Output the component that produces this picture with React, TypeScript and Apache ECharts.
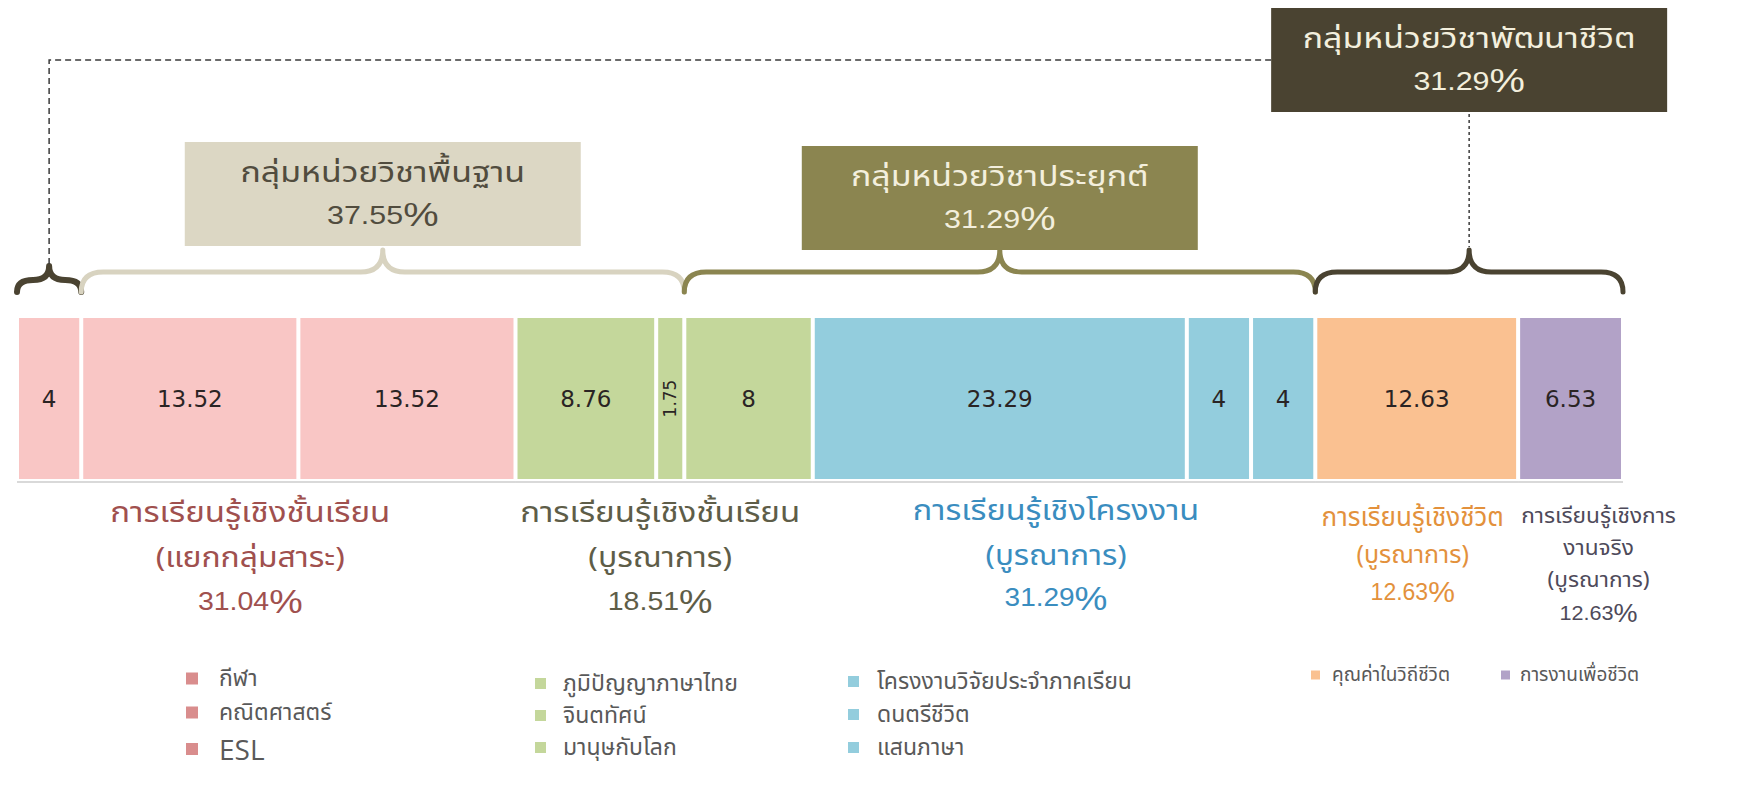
import React, { useEffect, useRef } from "react";
import * as echarts from "echarts";

// ---------- data ----------
const subjects = [
  "กีฬา",
  "คณิตศาสตร์",
  "ESL",
  "ภูมิปัญญาภาษาไทย",
  "จินตทัศน์",
  "มานุษกับโลก",
  "โครงงานวิจัยประจำภาคเรียน",
  "ดนตรีชีวิต",
  "แสนภาษา",
  "คุณค่าในวิถีชีวิต",
  "การงานเพื่อชีวิต",
];
const shares = [4, 13.52, 13.52, 8.76, 1.75, 8, 23.29, 4, 4, 12.63, 6.53];
// learning mode of each subject (index into modeLines)
const learningMode = [0, 0, 0, 1, 1, 1, 2, 2, 2, 3, 4];
const modeLines = [
  ["การเรียนรู้เชิงชั้นเรียน", "(แยกกลุ่มสาระ)"],
  ["การเรียนรู้เชิงชั้นเรียน", "(บูรณาการ)"],
  ["การเรียนรู้เชิงโครงงาน", "(บูรณาการ)"],
  ["การเรียนรู้เชิงชีวิต", "(บูรณาการ)"],
  ["การเรียนรู้เชิงการ", "งานจริง", "(บูรณาการ)"],
];
const modePercents = [31.04, 18.51, 31.29, 12.63, 12.63];
const unitGroupNames = ["กลุ่มหน่วยวิชาพื้นฐาน", "กลุ่มหน่วยวิชาประยุกต์", "กลุ่มหน่วยวิชาพัฒนาชีวิต"];
const unitGroupPercents = [37.55, 31.29, 31.29];
// braces: first & last subject index covered, and the unit group they belong to
const braceFrom = [0, 1, 5, 9];
const braceTo = [0, 4, 8, 10];
const braceGroup = [2, 0, 1, 2];

// ---------- styles ----------
const THAI = "'Noto Sans Thai', 'Noto Sans Thai UI', Loma, Garuda, Tahoma, 'Noto Sans', sans-serif";
const NUM = "'DejaVu Sans', 'Noto Sans', sans-serif";
const LATIN = "'Open Sans', 'Noto Sans', sans-serif";
const ARIAL = "'Liberation Sans', Arial, sans-serif";
const modeColors = ["#F9C6C5", "#C4D79B", "#93CDDD", "#FAC191", "#B2A2C7"];
const legendColors = ["#D98D8D", "#C4D79B", "#93CDDD", "#FAC191", "#B2A2C7"];
const modeTextColors = ["#A0504E", "#5E5D48", "#3A8DBF", "#E3913C", "#4E4A5A"];
const braceColors = ["#4A4331", "#D8D3C0", "#8B8550", "#4A4331"];
const boxFills = ["#DCD7C4", "#8B8550", "#4A4331"];
const boxTextColors = ["#514C3E", "#F3EFDD", "#F3EFDD"];

export default function App() {
  const ref = useRef<HTMLDivElement>(null);

  useEffect(() => {
    const chart = echarts.init(ref.current!, null, { renderer: "svg" });

    const cum: number[] = [0];
    shares.forEach((v, i) => cum.push(cum[i] + v));

    const braceData = braceFrom.map((a, k) => [cum[a], 0, cum[braceTo[k] + 1], k]);
    const modeData = modeLines.map((_, m) => {
      const idx = learningMode.map((g, i) => (g === m ? i : -1)).filter((i) => i >= 0);
      return [cum[idx[0]], 0, cum[idx[idx.length - 1] + 1], m];
    });

    const boxW = 396;
    const boxH = 104;
    const boxBottomGap = [70, 66, 204];

    // per-mode label layout
    const modeDx = [-16, -4, -8, -4, 28];
    const modeTop = [-2, -2, -4, 8, 10];
    const modeTitleSize = [29, 29, 29, 26, 21];
    const modeSubSize = [28, 28, 28, 25, 21];
    const modeNumSize = [25, 25, 25, 23, 20];
    const modePctSize = [33, 33, 33, 30, 25];
    const modeTitleLh = [48, 48, 48, 37, 32];
    const modeLh = [43, 43, 42, 37, 32];
    const modeScale = [1.14, 1.14, 1.12, 1.0, 1.08];

    const bracePath = (x1: number, x2: number, yEnd: number, yMid: number, yTip: number, r: number) => {
      const xm = (x1 + x2) / 2;
      return (
        `M${x1},${yEnd} Q${x1},${yMid} ${x1 + r},${yMid} L${xm - r},${yMid} ` +
        `Q${xm},${yMid} ${xm},${yTip} Q${xm},${yMid} ${xm + r},${yMid} ` +
        `L${x2 - r},${yMid} Q${x2},${yMid} ${x2},${yEnd}`
      );
    };

    const barSeries = subjects.map((name, i) => ({
      name,
      type: "bar",
      stack: "all",
      barWidth: "100%",
      silent: true,
      data: [shares[i]],
      itemStyle: { color: modeColors[learningMode[i]], borderColor: "#ffffff", borderWidth: 2 },
      label: {
        show: true,
        position: "inside",
        formatter: "{c}",
        fontFamily: NUM,
        fontSize: shares[i] < 2 ? 17 : 23,
        color: "#2a2424",
        rotate: shares[i] < 2 ? 90 : 0,
      },
    }));

    const braceSeries = {
      type: "custom",
      name: "braces",
      silent: true,
      clip: false,
      z: 5,
      data: braceData,
      encode: { x: [0, 2], y: 1 },
      renderItem: (params: any, api: any) => {
        const k = api.value(3);
        const p1 = api.coord([api.value(0), 0]);
        const p2 = api.coord([api.value(2), 0]);
        const band = api.size([0, 1])[1];
        const barTop = p1[1] - band / 2;
        const x1 = p1[0];
        const x2 = p2[0];
        const xm = (x1 + x2) / 2;
        const small = x2 - x1 < 100;
        const yEnd = barTop - 24;
        const yMid = small ? barTop - 36 : barTop - 44;
        const yTip = small ? barTop - 50 : barTop - 66;
        const r = small ? (x2 - x1) / 4 : 22;
        const children: any[] = [
          {
            type: "path",
            shape: { pathData: bracePath(x1, x2, yEnd, yMid, yTip, r) },
            style: { fill: "none", stroke: braceColors[k], lineWidth: small ? 6 : 5, lineCap: "round", lineJoin: "round" },
          },
        ];
        const g = braceGroup[k];
        const boxBottom = barTop - boxBottomGap[g];
        const boxTop = boxBottom - boxH;
        if (!small) {
          children.push({
            type: "rect",
            shape: { x: xm - boxW / 2, y: boxTop, width: boxW, height: boxH },
            style: { fill: boxFills[g] },
          });
          children.push({
            type: "text",
            x: xm,
            y: boxTop + boxH / 2,
            scaleX: 1.17,
            style: {
              text: `{t|${unitGroupNames[g]}}\n{n|${unitGroupPercents[g].toFixed(2)}}{p|%}`,
              align: "center",
              verticalAlign: "middle",
              fill: boxTextColors[g],
              rich: {
                t: { fontFamily: THAI, fontSize: 29, lineHeight: 42, fill: boxTextColors[g] },
                n: { fontFamily: ARIAL, fontSize: 26, lineHeight: 42, fill: boxTextColors[g] },
                p: { fontFamily: ARIAL, fontSize: 34, lineHeight: 42, fill: boxTextColors[g] },
              },
            },
          });
          if (g === 2) {
            children.push({
              type: "line",
              shape: { x1: xm, y1: boxBottom + 2, x2: xm, y2: yTip - 3 },
              style: { stroke: "#3a3a3a", lineWidth: 1.5, lineDash: [3, 3] },
            });
          }
        } else {
          // dashed connector from the small brace to its group's box
          const kk = braceGroup.findIndex((gg, i) => gg === g && i !== k);
          const q1 = api.coord([cum[braceFrom[kk]], 0]);
          const q2 = api.coord([cum[braceTo[kk] + 1], 0]);
          const bx = (q1[0] + q2[0]) / 2 - boxW / 2;
          const dashY = boxTop + 52;
          children.push({
            type: "polyline",
            shape: { points: [[xm, yTip - 2], [xm, dashY], [bx, dashY]] },
            style: { fill: "none", stroke: "#3a3a3a", lineWidth: 1.5, lineDash: [6, 4] },
          });
        }
        return { type: "group", children };
      },
    };

    const modeSeries = {
      type: "custom",
      name: "modes",
      silent: true,
      clip: false,
      z: 5,
      data: modeData,
      encode: { x: [0, 2], y: 1 },
      renderItem: (params: any, api: any) => {
        const m = api.value(3);
        const p1 = api.coord([api.value(0), 0]);
        const p2 = api.coord([api.value(2), 0]);
        const band = api.size([0, 1])[1];
        const barBottom = p1[1] + band / 2;
        const cx = (p1[0] + p2[0]) / 2 + modeDx[m];
        const lines = modeLines[m];
        const col = modeTextColors[m];
        const text =
          lines.map((l, j) => (j === 0 ? `{t|${l}}` : `{s|${l}}`)).join("\n") +
          `\n{n|${modePercents[m].toFixed(2)}}{p|%}`;
        return {
          type: "group",
          children: [
            {
              type: "rect",
              shape: { x: p1[0], y: barBottom, width: p2[0] - p1[0], height: 2 },
              style: { fill: "rgba(0,0,0,0.15)" },
            },
            {
              type: "text",
              x: cx,
              y: barBottom + 10 + modeTop[m],
              scaleX: modeScale[m],
              style: {
                text,
                align: "center",
                verticalAlign: "top",
                fill: col,
                rich: {
                  t: { fontFamily: THAI, fontSize: modeTitleSize[m], lineHeight: modeTitleLh[m], fill: col },
                  s: { fontFamily: THAI, fontSize: modeSubSize[m], lineHeight: modeLh[m], fill: col },
                  n: { fontFamily: ARIAL, fontSize: modeNumSize[m], lineHeight: modeLh[m], fill: col },
                  p: { fontFamily: ARIAL, fontSize: modePctSize[m], lineHeight: modeLh[m], fill: col },
                },
              },
            },
          ],
        };
      },
    };

    const legendLeft = [184, 533, 846, 1309, 1499];
    const legendTop = [667, 672, 670, 664, 664];
    const legendIcon = [14, 13, 13, 11, 11];
    const legendFont = [23, 23, 23, 19, 19];
    const legendGap = [11, 9, 10, 10, 10];
    const legendPad = [15, 11, 12, 6, 4];
    const legends = modeLines.map((_, m) => ({
      show: true,
      orient: "vertical",
      left: legendLeft[m],
      top: legendTop[m],
      padding: 0,
      selectedMode: false,
      icon: "rect",
      itemWidth: legendIcon[m],
      itemHeight: legendIcon[m],
      itemGap: legendGap[m],
      textStyle: {
        fontFamily: THAI,
        fontSize: legendFont[m],
        lineHeight: 22,
        color: "#595959",
        padding: [0, 0, 0, legendPad[m]],
      },
      data: subjects
        .map((name, i) => ({ name, i }))
        .filter((d) => learningMode[d.i] === m)
        .map((d) => ({
          name: d.name,
          itemStyle: { color: legendColors[m] },
          textStyle: /^[A-Za-z]+$/.test(d.name)
            ? { fontFamily: LATIN, fontSize: 28, lineHeight: 22, color: "#595959", padding: [0, 0, 0, legendPad[m]] }
            : undefined,
        })),
    }));

    chart.setOption({
      animation: false,
      backgroundColor: "#ffffff",
      grid: { left: 17, top: 316, width: 1606, height: 165, containLabel: false },
      xAxis: { type: "value", min: 0, max: 100, show: false },
      yAxis: { type: "category", data: ["mix"], show: false },
      legend: legends,
      series: [...barSeries, braceSeries, modeSeries],
    });

    return () => chart.dispose();
  }, []);

  return (
    <div
      ref={ref}
      style={{ position: "fixed", left: 0, top: 0, width: 1744, height: 790, background: "#ffffff" }}
    />
  );
}
